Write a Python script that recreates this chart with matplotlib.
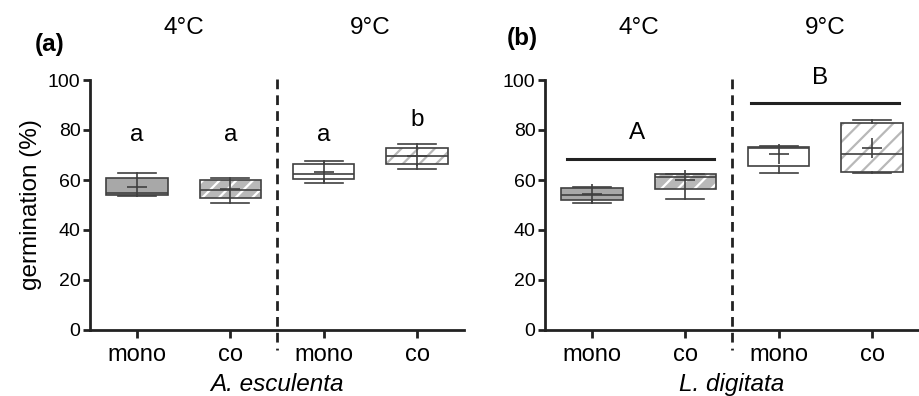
import numpy as np
import matplotlib
matplotlib.use("Agg")
from matplotlib import pyplot as plt
from matplotlib.patches import PathPatch

plt.rcParams['font.family'] = ['Liberation Sans', 'DejaVu Sans']
plt.rcParams['hatch.linewidth'] = 1.6

groups = ['mono', 'co', 'mono', 'co']
temps = ['4°C', '9°C']

# A. esculenta: q1, median, q3, whisker low, whisker high, mean
a_q1 = [54.0, 53.0, 60.4, 66.4]
a_med = [55.0, 55.9, 62.3, 69.5]
a_q3 = [60.9, 60.0, 66.4, 72.8]
a_lo = [53.7, 50.7, 58.8, 64.5]
a_hi = [62.9, 61.0, 67.7, 74.5]
a_mean = [57.1, 56.3, 63.2, 69.7]
a_letters = ['a', 'a', 'a', 'b']
a_letter_y = [78, 78, 78, 84]

# L. digitata
b_q1 = [51.9, 56.3, 65.7, 63.3]
b_med = [54.0, 61.1, 73.0, 70.5]
b_q3 = [56.7, 62.3, 73.3, 82.9]
b_lo = [50.7, 52.3, 62.9, 62.8]
b_hi = [57.3, 62.4, 73.7, 84.0]
b_mean = [54.4, 59.9, 70.3, 72.9]
b_bars = [(-0.27, 1.31, 68.5, 'A', 0.48, 78.7), (1.70, 3.29, 90.7, 'B', 2.44, 101.0)]

face = ['#a8a8a8', '#b8b8b8', 'white', 'white']
hatch = [None, '//', None, '//']
hatch_col = [None, 'white', None, '#b8b8b8']
edge = '#404040'

fig = plt.figure(figsize=(9.2, 3.96), dpi=100)
ax_a = fig.add_axes([90.3/920, 66/396, 373.4/920, 250/396])
ax_b = fig.add_axes([545.3/920, 66/396, 373.4/920, 250/396])


def draw(ax, q1, med, q3, lo, hi, mean, species):
    stats = []
    for i in range(4):
        stats.append(dict(q1=q1[i], med=med[i], q3=q3[i], whislo=lo[i],
                          whishi=hi[i], mean=mean[i], fliers=[]))
    bp = ax.bxp(stats, positions=range(4), widths=0.66, patch_artist=True,
                showmeans=True, showfliers=False,
                boxprops=dict(linewidth=1.2),
                medianprops=dict(color=edge, linewidth=1.2),
                whiskerprops=dict(color=edge, linewidth=1.2),
                capprops=dict(color=edge, linewidth=1.2),
                capwidths=0.41,
                meanprops=dict(marker='+', markersize=14, markeredgecolor=edge,
                               markeredgewidth=1.2))
    for i, box in enumerate(bp['boxes']):
        box.set_facecolor(face[i])
        if hatch[i]:
            box.set_hatch(hatch[i])
            box.set_edgecolor(hatch_col[i])
            box.set_linewidth(0)
            ax.add_patch(PathPatch(box.get_path(), fill=False, edgecolor=edge,
                                   linewidth=1.2, zorder=box.get_zorder() + 0.1))
        else:
            box.set_edgecolor(edge)
    ax.set_xlim(-0.5, 3.5)
    ax.set_ylim(0, 100)
    ax.set_yticks([0, 20, 40, 60, 80, 100])
    ax.set_xticks(range(4))
    ax.set_xticklabels(groups, fontsize=17)
    ax.tick_params(axis='y', labelsize=14, width=2, length=5, pad=2, color='#222222')
    ax.tick_params(axis='x', width=2, length=6, pad=4, color='#222222')
    for s in ['top', 'right']:
        ax.spines[s].set_visible(False)
    for s in ['left', 'bottom']:
        ax.spines[s].set_linewidth(2)
        ax.spines[s].set_color('#222222')
    ax.plot([1.5, 1.5], [100.5, -8], color='#222222', lw=2, ls=(0, (3.5, 2.2)),
            clip_on=False)
    for j, t in enumerate(temps):
        ax.text(0.5 + 2 * j, 1.21, t, transform=ax.get_xaxis_transform(),
                ha='center', va='center', fontsize=17.5)
    ax.set_xlabel(species, fontsize=17.5, style='italic', labelpad=5)


draw(ax_a, a_q1, a_med, a_q3, a_lo, a_hi, a_mean, 'A. esculenta')
draw(ax_b, b_q1, b_med, b_q3, b_lo, b_hi, b_mean, 'L. digitata')
ax_a.set_ylabel('germination (%)', fontsize=17.5, labelpad=4)

for i in range(4):
    ax_a.text(i, a_letter_y[i], a_letters[i], ha='center', va='center', fontsize=17.5)

for x0, x1, y, lab, lx, ly in b_bars:
    ax_b.plot([x0, x1], [y, y], color='#222222', lw=2.2, clip_on=False)
    ax_b.text(lx, ly, lab, ha='center', va='center', fontsize=17.5, clip_on=False)

fig.text(50/920, 1 - 44/396, '(a)', ha='center', va='center', fontsize=17.5, weight='bold')
fig.text(522/920, 1 - 38/396, '(b)', ha='center', va='center', fontsize=17.5, weight='bold')

fig.savefig('out.png', dpi=100)
